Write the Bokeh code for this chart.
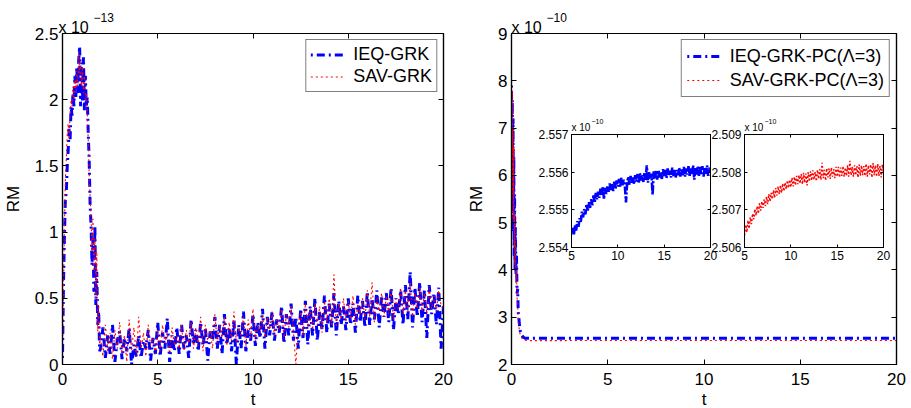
import numpy as np
from bokeh.plotting import figure
from bokeh.layouts import row
from bokeh.models import (Range1d, FixedTicker, LinearAxis, Legend, LegendItem, Label,
                          CustomJSTickFormatter, GlobalInlineStyleSheet)
from bokeh.embed import file_html
from bokeh.resources import INLINE

FONT = "Liberation Sans"

# ---------------- data ----------------
t_ticks = [0, 5, 10, 15, 20]
t_tick_labels = ["0", "5", "10", "15", "20"]
grk_y_ticks = [0, 0.5, 1, 1.5, 2, 2.5]
grk_y_labels = ["0", "0.5", "1", "1.5", "2", "2.5"]
pc_y_ticks = [2, 3, 4, 5, 6, 7, 8, 9]
pc_y_labels = ["2", "3", "4", "5", "6", "7", "8", "9"]
inset_t_ticks = [5, 10, 15, 20]
inset_t_labels = ["5", "10", "15", "20"]
ieq_inset_ticks = [2.554, 2.555, 2.556, 2.557]
ieq_inset_labels = ["2.554", "2.555", "2.556", "2.557"]
sav_inset_ticks = [2.506, 2.507, 2.508, 2.509]
sav_inset_labels = ["2.506", "2.507", "2.508", "2.509"]
grk_exponent = "\u221213"
pc_exponent = "\u221210"

# left panel (RM in units of 1e-13)
grk_t_early = np.linspace(0.0, 1.95, 40)
ieq_grk_early = [0.05, 0.60, 0.95, 1.25, 1.30, 1.50, 1.62, 1.78, 1.70, 1.95,
                 1.88, 2.05, 1.95, 2.18, 2.02, 2.25, 2.05, 2.30, 2.40, 1.95,
                 2.28, 1.98, 2.32, 1.92, 2.18, 1.95, 2.02, 1.75, 1.55, 1.20,
                 1.05, 0.75, 0.95, 0.55, 1.05, 0.45, 0.70, 0.30, 0.40, 0.10]
sav_grk_early = [0.10, 0.55, 1.05, 1.40, 1.55, 1.75, 1.82, 1.70, 1.90, 2.00,
                 1.95, 2.10, 2.00, 2.15, 2.08, 2.22, 2.10, 2.35, 2.20, 2.28,
                 2.10, 2.25, 2.05, 2.18, 2.00, 2.05, 1.90, 1.70, 1.45, 1.25,
                 1.10, 0.85, 1.10, 0.70, 0.95, 0.50, 0.85, 0.25, 0.45, 0.15]
grk_t_late = np.linspace(2.0, 20.0, 145)
ieq_grk_late = [
    0.12, 0.28, 0.05, 0.22, 0.08, 0.30, 0.02, 0.18,
    0.25, 0.04, 0.20, 0.10, 0.28, 0.00, 0.15, 0.06,
    0.22, 0.05, 0.18, 0.12, 0.26, 0.03, 0.20, 0.08,
    0.32, 0.06, 0.24, 0.12, 0.35, 0.02, 0.22, 0.10,
    0.28, 0.08, 0.30, 0.12, 0.22, 0.05, 0.34, 0.15,
    0.26, 0.10, 0.32, 0.14, 0.28, 0.03, 0.25, 0.18,
    0.36, 0.12, 0.30, 0.08, 0.38, 0.15, 0.28, 0.10,
    0.34, 0.00, 0.30, 0.12, 0.40, 0.10, 0.26, 0.18,
    0.38, 0.14, 0.32, 0.20, 0.42, 0.12, 0.36, 0.22,
    0.40, 0.18, 0.34, 0.24, 0.44, 0.16, 0.38, 0.22,
    0.46, 0.18, 0.36, 0.12, 0.42, 0.20, 0.48, 0.15,
    0.44, 0.22, 0.50, 0.18, 0.40, 0.26, 0.52, 0.24,
    0.46, 0.28, 0.54, 0.22, 0.48, 0.30, 0.44, 0.26,
    0.50, 0.30, 0.46, 0.24, 0.52, 0.32, 0.48, 0.28,
    0.55, 0.30, 0.50, 0.34, 0.56, 0.28, 0.52, 0.36,
    0.54, 0.32, 0.58, 0.26, 0.50, 0.38, 0.56, 0.30,
    0.60, 0.34, 0.70, 0.28, 0.58, 0.36, 0.62, 0.32,
    0.56, 0.20, 0.60, 0.38, 0.54, 0.30, 0.58, 0.12,
    0.45]
sav_grk_late = [
    0.20, 0.06, 0.30, 0.10, 0.24, 0.04, 0.26, 0.12,
    0.32, 0.08, 0.22, 0.02, 0.34, 0.10, 0.28, 0.06,
    0.36, 0.12, 0.24, 0.06, 0.30, 0.14, 0.20, 0.08,
    0.26, 0.10, 0.30, 0.16, 0.24, 0.08, 0.28, 0.14,
    0.22, 0.12, 0.30, 0.10, 0.26, 0.16, 0.32, 0.12,
    0.28, 0.14, 0.36, 0.10, 0.30, 0.18, 0.26, 0.12,
    0.38, 0.16, 0.30, 0.20, 0.36, 0.14, 0.32, 0.18,
    0.40, 0.16, 0.28, 0.22, 0.36, 0.14, 0.34, 0.20,
    0.42, 0.18, 0.30, 0.24, 0.38, 0.20, 0.36, 0.26,
    0.40, 0.22, 0.34, 0.26, 0.42, 0.20, 0.38, 0.28,
    0.44, 0.24, 0.00, 0.30, 0.40, 0.22, 0.46, 0.28,
    0.42, 0.26, 0.46, 0.30, 0.44, 0.24, 0.48, 0.32,
    0.50, 0.30, 0.68, 0.28, 0.46, 0.34, 0.50, 0.32,
    0.48, 0.34, 0.52, 0.30, 0.46, 0.38, 0.50, 0.34,
    0.56, 0.36, 0.62, 0.32, 0.50, 0.40, 0.54, 0.36,
    0.52, 0.38, 0.56, 0.34, 0.50, 0.42, 0.58, 0.38,
    0.56, 0.40, 0.62, 0.36, 0.54, 0.42, 0.58, 0.40,
    0.54, 0.38, 0.58, 0.42, 0.52, 0.40, 0.56, 0.44,
    0.42]

# right panel (RM in units of 1e-10)
pc_t_early = [0, 0.02, 0.04, 0.06, 0.08, 0.10, 0.12, 0.14, 0.16, 0.18,
              0.20, 0.23, 0.26, 0.29, 0.32, 0.35, 0.38, 0.42, 0.46, 0.50,
              0.55, 0.60, 0.70, 0.80, 1.0, 2.0, 3.0, 4.0]
ieq_pc_early = [7.9, 6.2, 7.6, 5.4, 7.2, 4.8, 6.4, 4.3, 5.6, 4.0,
                4.9, 3.9, 4.3, 3.5, 3.6, 3.1, 3.0, 2.8, 2.7, 2.64,
                2.62, 2.58, 2.556, 2.5553, 2.5530, 2.5535, 2.5538, 2.5541]
sav_pc_early = [8.1, 6.5, 7.8, 5.6, 7.0, 5.0, 6.6, 4.5, 5.2, 4.1,
                4.6, 3.7, 4.0, 3.4, 3.3, 2.9, 2.8, 2.7, 2.62, 2.58,
                2.55, 2.53, 2.515, 2.5085, 2.5055, 2.5058, 2.5060, 2.5062]
inset_t = np.linspace(5.0, 20.0, 121)
ieq_pc_inset = [
    2.55438, 2.55452, 2.55432, 2.55460, 2.55445, 2.55470, 2.55455, 2.55478,
    2.55468, 2.55495, 2.55480, 2.55502, 2.55488, 2.55515, 2.55498, 2.55520,
    2.55505, 2.55528, 2.55512, 2.55538, 2.55520, 2.55545, 2.55528, 2.55548,
    2.55532, 2.55556, 2.55538, 2.55560, 2.55530, 2.55558, 2.55542, 2.55562,
    2.55548, 2.55570, 2.55552, 2.55568, 2.55550, 2.55575, 2.55556, 2.55578,
    2.55562, 2.55582, 2.55560, 2.55585, 2.55565, 2.55580, 2.55568, 2.55520,
    2.55570, 2.55588, 2.55566, 2.55590, 2.55572, 2.55586, 2.55568, 2.55592,
    2.55575, 2.55595, 2.55570, 2.55598, 2.55578, 2.55594, 2.55574, 2.55600,
    2.55580, 2.55618, 2.55572, 2.55600, 2.55582, 2.55596, 2.55540, 2.55602,
    2.55584, 2.55604, 2.55580, 2.55606, 2.55586, 2.55600, 2.55582, 2.55608,
    2.55588, 2.55606, 2.55584, 2.55610, 2.55590, 2.55604, 2.55586, 2.55612,
    2.55590, 2.55608, 2.55586, 2.55606, 2.55592, 2.55612, 2.55588, 2.55610,
    2.55592, 2.55614, 2.55588, 2.55610, 2.55594, 2.55616, 2.55590, 2.55612,
    2.55596, 2.55618, 2.55580, 2.55612, 2.55594, 2.55616, 2.55590, 2.55614,
    2.55592, 2.55616, 2.55588, 2.55612, 2.55596, 2.55618, 2.55590, 2.55612,
    2.55600]
sav_pc_inset = [
    2.50632, 2.50660, 2.50640, 2.50672, 2.50650, 2.50680, 2.50662, 2.50690,
    2.50675, 2.50702, 2.50685, 2.50710, 2.50690, 2.50718, 2.50698, 2.50722,
    2.50705, 2.50728, 2.50710, 2.50735, 2.50715, 2.50742, 2.50722, 2.50745,
    2.50728, 2.50752, 2.50732, 2.50758, 2.50738, 2.50762, 2.50742, 2.50765,
    2.50745, 2.50770, 2.50750, 2.50772, 2.50755, 2.50778, 2.50758, 2.50780,
    2.50760, 2.50785, 2.50762, 2.50788, 2.50765, 2.50790, 2.50768, 2.50792,
    2.50770, 2.50795, 2.50768, 2.50798, 2.50772, 2.50796, 2.50765, 2.50800,
    2.50775, 2.50802, 2.50778, 2.50805, 2.50780, 2.50800, 2.50776, 2.50806,
    2.50782, 2.50808, 2.50780, 2.50825, 2.50784, 2.50806, 2.50778, 2.50810,
    2.50786, 2.50810, 2.50782, 2.50812, 2.50788, 2.50808, 2.50784, 2.50814,
    2.50788, 2.50814, 2.50786, 2.50812, 2.50790, 2.50816, 2.50788, 2.50812,
    2.50790, 2.50818, 2.50788, 2.50830, 2.50792, 2.50814, 2.50788, 2.50818,
    2.50792, 2.50816, 2.50786, 2.50820, 2.50790, 2.50818, 2.50792, 2.50816,
    2.50790, 2.50822, 2.50788, 2.50818, 2.50794, 2.50820, 2.50786, 2.50824,
    2.50792, 2.50818, 2.50788, 2.50822, 2.50790, 2.50816, 2.50786, 2.50820,
    2.50800]

BLUE = "#0000ff"
RED = "#ff0000"
DASHDOT = "8 4 2 4"
DOTTED = "2 3"

# layout constants (page pixels)
FRAME_TOP = 33
FRAME_W, FRAME_H = 385, 331
P1_LEFT_BORDER = 58
P1_RIGHT_BORDER = 20
P2_LEFT_BORDER = 48
P2_RIGHT_BORDER = 15
P1_W = P1_LEFT_BORDER + FRAME_W + P1_RIGHT_BORDER
P2_FRAME_LEFT = P1_W + P2_LEFT_BORDER
BOTTOM_BORDER = 49
INSET_TOP = 134
INSET1_LEFT, INSET2_LEFT = 571, 744


def style_axes(p, xt, xl, yt, yl, size, tick_len, line_w):
    p.xgrid.visible = False
    p.ygrid.visible = False
    p.outline_line_color = "black"
    p.outline_line_width = line_w
    for ax, ticks, labels in ((p.below[0], xt, xl), (p.left[0], yt, yl)):
        ax.ticker = FixedTicker(ticks=ticks, minor_ticks=[])
        ax.major_label_overrides = {k: v for k, v in zip(ticks, labels)}
        ax.major_tick_in = tick_len
        ax.major_tick_out = 0
        ax.minor_tick_line_color = None
        ax.major_label_text_font = FONT
        ax.major_label_text_font_size = size
        ax.major_label_text_color = "black"
        ax.axis_line_color = "black"
        ax.axis_line_width = line_w
        ax.major_tick_line_color = "black"
    top = LinearAxis(ticker=FixedTicker(ticks=xt, minor_ticks=[]),
                     formatter=CustomJSTickFormatter(code="return ''"),
                     major_tick_in=tick_len, major_tick_out=0,
                     minor_tick_line_color=None, major_label_standoff=0,
                     axis_line_color="black", axis_line_width=line_w)
    right = LinearAxis(ticker=FixedTicker(ticks=yt, minor_ticks=[]),
                       formatter=CustomJSTickFormatter(code="return ''"),
                       major_tick_in=tick_len, major_tick_out=0,
                       minor_tick_line_color=None, major_label_standoff=0,
                       axis_line_color="black", axis_line_width=line_w)
    p.add_layout(top, "above")
    p.add_layout(right, "right")


def label_axes(p, xlab, ylab):
    bx, ly = p.below[0], p.left[0]
    bx.axis_label = xlab
    ly.axis_label = ylab
    for ax in (bx, ly):
        ax.axis_label_text_font = FONT
        ax.axis_label_text_font_size = "17px"
        ax.axis_label_text_font_style = "normal"
        ax.axis_label_text_color = "black"
    bx.major_label_standoff = 8
    bx.axis_label_standoff = 2
    ly.major_label_standoff = 4
    ly.axis_label_standoff = 9


def make_legend(items, pad, spacing, row_h):
    return Legend(items=items, location="top_right", margin=6, padding=pad, spacing=spacing,
                  glyph_width=35, glyph_height=row_h, label_height=row_h, label_standoff=8,
                  label_text_font=FONT, label_text_font_size="18px", label_text_color="black",
                  border_line_color="black", border_line_width=1, background_fill_alpha=1)


css = GlobalInlineStyleSheet(css="html, body { overflow: hidden; }")

# ---------------- left panel ----------------
p1 = figure(width=P1_W, height=FRAME_TOP + FRAME_H + BOTTOM_BORDER,
            x_range=Range1d(0, 20), y_range=Range1d(0, 2.5),
            output_backend="svg", toolbar_location=None,
            min_border_left=P1_LEFT_BORDER, min_border_right=P1_RIGHT_BORDER,
            min_border_top=FRAME_TOP, min_border_bottom=BOTTOM_BORDER)
p1.stylesheets = [css]
style_axes(p1, t_ticks, t_tick_labels, grk_y_ticks, grk_y_labels, "17px", 5, 1.2)
label_axes(p1, "t", "RM")
gt = list(grk_t_early) + list(grk_t_late)
r1 = p1.line(gt, ieq_grk_early + ieq_grk_late, line_color=BLUE, line_width=3,
             line_dash=DASHDOT, line_dash_offset=12)
r2 = p1.line(gt, sav_grk_early + sav_grk_late, line_color=RED, line_width=1.1, line_dash=DOTTED)
p1.add_layout(make_legend([LegendItem(label="IEQ-GRK", renderers=[r1]),
                           LegendItem(label="SAV-GRK", renderers=[r2])], 4, 1, 21))

# ---------------- right panel ----------------
p2 = figure(width=P2_LEFT_BORDER + FRAME_W + P2_RIGHT_BORDER,
            height=FRAME_TOP + FRAME_H + BOTTOM_BORDER,
            x_range=Range1d(0, 20), y_range=Range1d(2, 9),
            output_backend="svg", toolbar_location=None,
            min_border_left=P2_LEFT_BORDER, min_border_right=P2_RIGHT_BORDER,
            min_border_top=FRAME_TOP, min_border_bottom=BOTTOM_BORDER)
style_axes(p2, t_ticks, t_tick_labels, pc_y_ticks, pc_y_labels, "17px", 5, 1.2)
label_axes(p2, "t", "RM")
pt = pc_t_early + list(inset_t)
r3 = p2.line(pt, ieq_pc_early + ieq_pc_inset, line_color=BLUE, line_width=3,
             line_dash=DASHDOT, line_dash_offset=12)
r4 = p2.line(pt, sav_pc_early + sav_pc_inset, line_color=RED, line_width=1.1, line_dash=DOTTED)
p2.add_layout(make_legend([LegendItem(label="IEQ-GRK-PC(\u039b=3)", renderers=[r3]),
                           LegendItem(label="SAV-GRK-PC(\u039b=3)", renderers=[r4])], 5, 2, 22))


# ---------------- insets ----------------
def make_inset(frame_left, yr, yt, yl, tvals, yvals, color, width, dash):
    fw, fh = 139, 113
    bl, br, bt, bb = 36, 10, 16, 20
    p = figure(width=bl + fw + br, height=bt + fh + bb,
               x_range=Range1d(5, 20), y_range=Range1d(*yr),
               output_backend="svg", toolbar_location=None,
               min_border_left=bl, min_border_right=br, min_border_top=bt, min_border_bottom=bb,
               border_fill_color=None, background_fill_color="white",
               styles={"position": "absolute", "left": f"{frame_left - bl}px",
                       "top": f"{INSET_TOP - bt}px"})
    style_axes(p, inset_t_ticks, inset_t_labels, yt, yl, "12px", 3, 1)
    p.below[0].major_label_standoff = 3
    p.left[0].major_label_standoff = 3
    p.line(tvals, yvals, line_color=color, line_width=width, line_dash=dash)
    return p


in1 = make_inset(INSET1_LEFT, (2.554, 2.557), ieq_inset_ticks, ieq_inset_labels,
                 inset_t, ieq_pc_inset, BLUE, 2.6, "8 2 2 2")
in2 = make_inset(INSET2_LEFT, (2.506, 2.509), sav_inset_ticks, sav_inset_labels,
                 inset_t, sav_pc_inset, RED, 1.5, "2 2")

# ---------------- transparent overlay for the axis scale factors ----------------
ov = figure(width=911, height=408, x_range=Range1d(0, 911), y_range=Range1d(408, 0),
            x_axis_type=None, y_axis_type=None, title=None,
            output_backend="svg", toolbar_location=None, min_border=0,
            outline_line_color=None, background_fill_color=None, border_fill_color=None,
            styles={"position": "absolute", "left": "0px", "top": "0px",
                    "pointer-events": "none"})
ov.grid.visible = False


def scale_factor(x, base_y, expo, fs1, fs2, dx, dy):
    ov.add_layout(Label(x=x, y=base_y, text="x 10", text_font=FONT, text_font_size=fs1,
                        text_color="black", text_baseline="alphabetic"))
    ov.add_layout(Label(x=x + dx, y=base_y - dy, text=expo, text_font=FONT,
                        text_font_size=fs2, text_color="black", text_baseline="alphabetic"))


scale_factor(P1_LEFT_BORDER, FRAME_TOP - 6, grk_exponent, "16px", "12px", 35, 10)
scale_factor(P2_FRAME_LEFT, FRAME_TOP - 6, pc_exponent, "16px", "12px", 35, 10)
scale_factor(INSET1_LEFT, INSET_TOP - 7, pc_exponent, "10px", "7px", 20, 6)
scale_factor(INSET2_LEFT, INSET_TOP - 7, pc_exponent, "10px", "7px", 20, 6)

layout = row(p1, p2)
open("out.html", "w").write(file_html([layout, in1, in2, ov], INLINE))
